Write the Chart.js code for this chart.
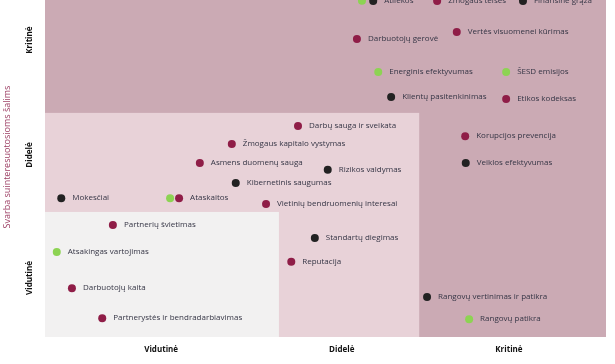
<!DOCTYPE html>
<html lang="lt">
<head>
<meta charset="UTF-8">
<title>Reikšmingumo matrica</title>
<script src="https://cdn.jsdelivr.net/npm/chart.js"></script>
<style>
  html,body{margin:0;padding:0;background:#fff}
  #wrap{position:relative;width:615px;height:364px;overflow:hidden}
  /* y ašies žymės palieka tarpą viršuje, todėl drobė pakeliama */
  #matrica{position:absolute;left:0;top:-4px}
</style>
</head>
<body>
<div id="wrap"><canvas id="matrica" width="615" height="368"></canvas></div>
<script>
/* ---- ašys ---- */
const lygiai   = ["Vidutinė", "Didelė", "Kritinė"];
const xTickVals = [20.7, 52.9, 82.7];   // poveikio lygio žymės
const yTickVals = [17.5, 54, 88.1];     // svarbos lygio žymės
const xRibos = [41.7, 66.7];            // juostų ribos (x)
const yRibos = [37.1, 66.5];            // juostų ribos (y)

/* ---- aplinka (žalia) ---- */
const aplinkaPav = ["", "Energinis efektyvumas", "ŠESD emisijos", "", "Atsakingas vartojimas", "Rangovų patikra"];
const aplinkaX   = [56.5, 59.4, 82.2, 22.3, 2.1, 75.6];
const aplinkaY   = [99.8, 78.6, 78.6, 41.2, 25.2, 5.3];

/* ---- socialinė sritis (bordo) ---- */
const socPav = ["Žmogaus teisės", "Darbuotojų gerovė", "Vertės visuomenei kūrimas", "Etikos kodeksas",
  "Darbų sauga ir sveikata", "Korupcijos prevencija", "Žmogaus kapitalo vystymas", "Asmens duomenų sauga",
  "Ataskaitos", "Vietinių bendruomenių interesai", "Partnerių švietimas", "Reputacija",
  "Darbuotojų kaita", "Partnerystės ir bendradarbiavimas"];
const socX = [69.9, 55.6, 73.4, 82.2, 45.1, 74.9, 33.3, 27.6, 23.9, 39.4, 12.1, 43.9, 4.8, 10.2];
const socY = [99.7, 88.4, 90.5, 70.6, 62.6, 59.6, 57.3, 51.6, 41.2, 39.5, 33.2, 22.3, 14.5, 5.6];

/* ---- valdysena (juoda) ---- */
const valdPav = ["Atliekos", "Finansinė grąža", "Klientų pasitenkinimas", "Veiklos efektyvumas",
  "Rizikos valdymas", "Kibernetinis saugumas", "Mokesčiai", "Standartų diegimas", "Rangovų vertinimas ir patikra"];
const valdX = [58.5, 85.2, 61.7, 75.0, 50.4, 34.0, 2.9, 48.1, 68.1];
const valdY = [99.7, 99.7, 71.2, 51.6, 49.6, 45.7, 41.2, 29.4, 11.9];

const taskai = (xs, ys) => xs.map((x, i) => ({x: x, y: ys[i]}));

const SRIFTAS = "'Open Sans', 'Noto Sans', sans-serif";

// fono juostos
const fonas = {
  id: "fonas",
  beforeDatasetsDraw(chart) {
    const {ctx, chartArea: a, scales: {x, y}} = chart;
    ctx.save();
    ctx.fillStyle = "#cbaab4";
    ctx.fillRect(a.left, a.top, a.right - a.left, a.bottom - a.top);
    ctx.fillStyle = "#e8d2d8";
    ctx.fillRect(a.left, y.getPixelForValue(yRibos[1]), x.getPixelForValue(xRibos[1]) - a.left, a.bottom - y.getPixelForValue(yRibos[1]));
    ctx.fillStyle = "#f2f1f1";
    ctx.fillRect(a.left, y.getPixelForValue(yRibos[0]), x.getPixelForValue(xRibos[0]) - a.left, a.bottom - y.getPixelForValue(yRibos[0]));
    ctx.restore();
  }
};

// taškų pavadinimai ir y ašies antraštė
const pavadinimai = {
  id: "pavadinimai",
  afterDatasetsDraw(chart) {
    const ctx = chart.ctx;
    ctx.save();
    ctx.font = "8px " + SRIFTAS;
    ctx.fillStyle = "#353545";
    ctx.textBaseline = "middle";
    chart.data.datasets.forEach((ds, di) => {
      chart.getDatasetMeta(di).data.forEach((el, i) => {
        const t = ds.pavadinimai[i];
        if (t) ctx.fillText(t, el.x + 11, el.y);
      });
    });
    // antraštė: drobė pakelta 4px
    ctx.translate(7, 161);
    ctx.rotate(-Math.PI / 2);
    ctx.textAlign = "center";
    ctx.font = "9px " + SRIFTAS;
    ctx.fillStyle = "#9c3e63";
    ctx.fillText("Svarba suinteresuotosioms šalims", 0, 0);
    ctx.restore();
  }
};

const bendras = {pointRadius: 4, pointHoverRadius: 4, borderWidth: 0};

new Chart(document.getElementById("matrica"), {
  type: "scatter",
  data: {
    datasets: [
      {...bendras, data: taskai(aplinkaX, aplinkaY), pavadinimai: aplinkaPav, backgroundColor: "#8dd353"},
      {...bendras, data: taskai(socX, socY), pavadinimai: socPav, backgroundColor: "#8f1d47"},
      {...bendras, data: taskai(valdX, valdY), pavadinimai: valdPav, backgroundColor: "#222222"}
    ]
  },
  options: {
    responsive: false,
    animation: false,
    devicePixelRatio: 1,
    layout: {padding: {left: 0, right: 9, top: 0, bottom: 0}},
    plugins: {legend: {display: false}, tooltip: {enabled: false}},
    scales: {
      x: {
        type: "linear", min: 0, max: 100,
        grid: {display: false, drawTicks: false}, border: {display: false},
        afterBuildTicks: s => { s.ticks = xTickVals.map(v => ({value: v})); },
        afterFit: s => { s.height = 27; },
        ticks: {
          padding: 8, color: "#111",
          font: {family: SRIFTAS, size: 8, weight: "bold"},
          callback: (v, i) => lygiai[i]
        }
      },
      y: {
        type: "linear", min: 0, max: 100,
        grid: {display: false, drawTicks: false}, border: {display: false},
        afterBuildTicks: s => { s.ticks = yTickVals.map(v => ({value: v})); },
        afterFit: s => { s.width = 45; },
        ticks: {
          minRotation: 90, maxRotation: 90, crossAlign: "center", padding: -2,
          color: "#111",
          font: {family: SRIFTAS, size: 8, weight: "bold"},
          callback: (v, i) => lygiai[i]
        }
      }
    }
  },
  plugins: [fonas, pavadinimai]
});
</script>
</body>
</html>
